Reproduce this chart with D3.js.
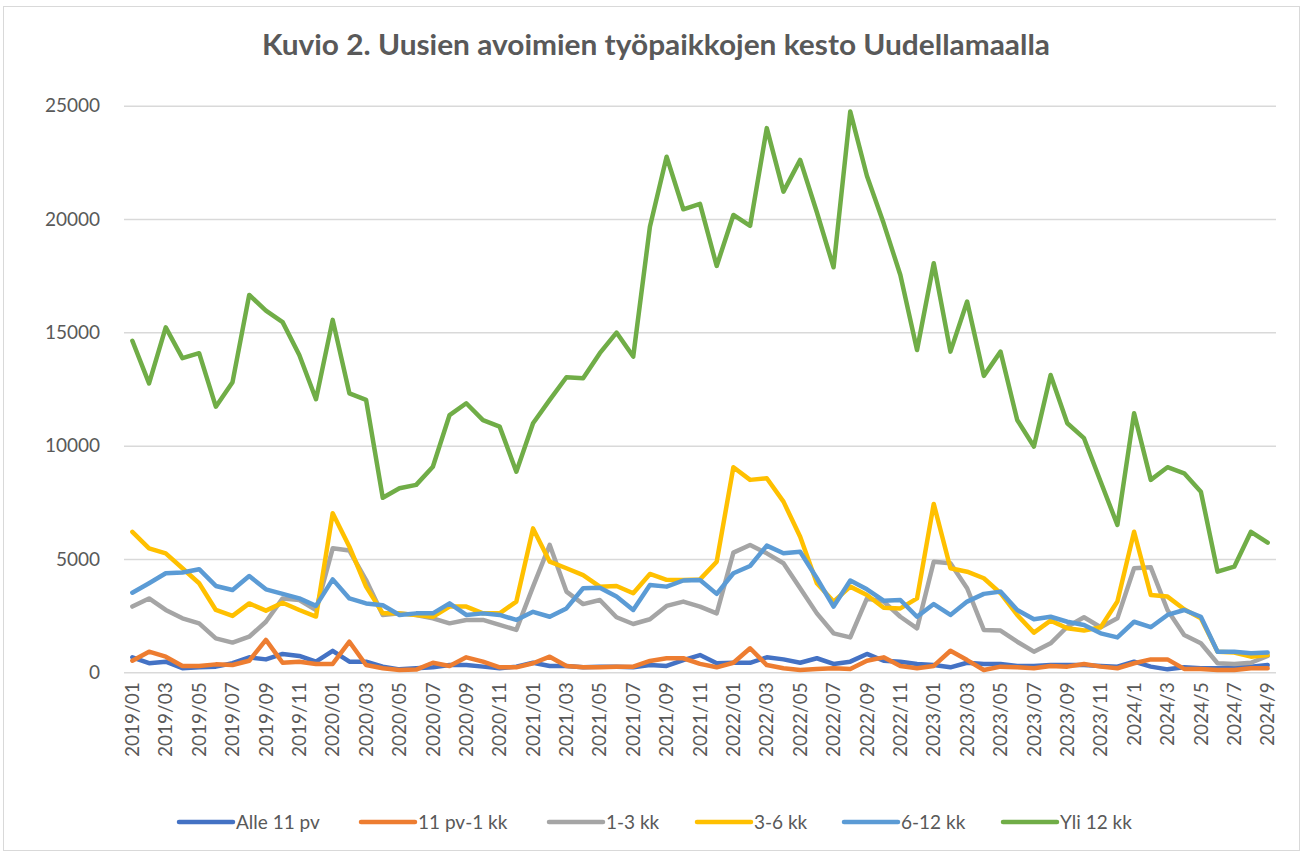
<!DOCTYPE html>
<html>
<head>
<meta charset="utf-8">
<script src="https://cdn.jsdelivr.net/npm/d3@7"></script>
<style>
  body { margin: 0; background: #fff; }
  text { font-family: Lato, "Open Sans", sans-serif; fill: #595959; }
</style>
</head>
<body>
<div id="chart"></div>
<script>
// categories (monthly)
var months = [
  "2019/01","2019/02","2019/03","2019/04","2019/05","2019/06","2019/07","2019/08","2019/09","2019/10","2019/11","2019/12",
  "2020/01","2020/02","2020/03","2020/04","2020/05","2020/06","2020/07","2020/08","2020/09","2020/10","2020/11","2020/12",
  "2021/01","2021/02","2021/03","2021/04","2021/05","2021/06","2021/07","2021/08","2021/09","2021/10","2021/11","2021/12",
  "2022/01","2022/02","2022/03","2022/04","2022/05","2022/06","2022/07","2022/08","2022/09","2022/10","2022/11","2022/12",
  "2023/01","2023/02","2023/03","2023/04","2023/05","2023/06","2023/07","2023/08","2023/09","2023/10","2023/11","2023/12",
  "2024/1","2024/2","2024/3","2024/4","2024/5","2024/6","2024/7","2024/8","2024/9"
];

var alle11pv = [660,400,470,180,220,250,400,660,570,810,720,470,950,470,470,250,130,180,220,320,320,250,180,250,
  420,280,280,220,250,250,220,320,280,540,760,400,420,420,660,570,420,620,370,470,810,510,470,370,
  320,220,420,370,370,280,280,320,320,320,280,250,470,250,130,220,180,180,220,250,320];
var pv11kk1 = [510,910,690,280,280,350,320,510,1430,420,470,370,370,1350,320,180,100,120,420,280,660,470,220,220,
  400,690,280,220,220,250,250,500,620,620,370,220,420,1060,320,180,100,150,180,150,510,660,280,180,
  280,950,540,100,250,220,180,280,250,370,250,180,400,570,570,150,150,100,100,180,180];
var kk1_3 = [2900,3260,2750,2380,2160,1500,1310,1570,2230,3260,3190,2750,5470,5370,4070,2530,2600,2530,2380,2160,2310,2310,2090,1870,
  3780,5620,3560,3010,3190,2430,2130,2340,2930,3120,2900,2600,5280,5620,5250,4810,3710,2600,1720,1540,3260,3120,2450,1940,
  4880,4810,3710,1870,1840,1350,910,1280,2010,2430,1990,2380,4590,4630,2750,1650,1280,400,370,420,720];
var kk3_6 = [6200,5470,5250,4590,3930,2750,2490,3040,2720,3070,2750,2460,7020,5540,3780,2600,2600,2530,2450,2900,2900,2600,2600,3120,
  6350,4880,4590,4290,3780,3810,3490,4340,4080,4070,4100,4880,9050,8490,8560,7530,5980,3930,3120,3780,3410,2850,2820,3260,
  7430,4590,4440,4150,3490,2530,1750,2280,1940,1840,1990,3120,6200,3410,3340,2780,2380,910,870,690,760];
var kk6_12 = [3510,3930,4370,4400,4550,3810,3630,4250,3660,3460,3260,2930,4100,3260,3040,2960,2530,2600,2600,3040,2530,2600,2530,2310,
  2670,2450,2820,3710,3730,3340,2750,3850,3780,4050,4070,3460,4370,4690,5590,5250,5320,4150,2900,4050,3660,3160,3190,2450,
  3010,2530,3120,3460,3560,2750,2340,2450,2230,2090,1720,1540,2230,1990,2530,2750,2450,910,910,840,870];
var yli12kk = [14630,12750,15220,13860,14080,11720,12800,16650,15960,15450,14000,12050,15550,12310,12020,7700,8120,8270,9070,11350,11870,11130,10840,8850,
  10990,12020,13020,12970,14080,14990,13930,19660,22750,20430,20670,17930,20180,19700,24010,21210,22610,20300,17870,24740,21900,19810,17530,14220,
  18050,14150,16360,13080,14150,11130,9960,13120,10990,10330,8410,6500,11430,8490,9050,8780,7970,4440,4660,6200,5720];

var seriesNames = ["Alle 11 pv", "11 pv-1 kk", "1-3 kk", "3-6 kk", "6-12 kk", "Yli 12 kk"];
var seriesColors = ["#4472C4", "#ED7D31", "#A5A5A5", "#FFC000", "#5B9BD5", "#70AD47"];
var seriesData = [alle11pv, pv11kk1, kk1_3, kk3_6, kk6_12, yli12kk];
var yTicks = [0, 5000, 10000, 15000, 20000, 25000];

var W = 1304, H = 855;
var plot = { left: 124, right: 1276, top: 105.7, bottom: 672.3 };

var svg = d3.select("#chart").append("svg")
  .attr("width", W)
  .attr("height", H);

// outer chart border
svg.append("rect")
  .attr("x", 3.5).attr("y", 6.5)
  .attr("width", 1296).attr("height", 844)
  .attr("fill", "none")
  .attr("stroke", "#D9D9D9")
  .attr("stroke-width", 1);

var x = d3.scaleBand()
  .domain(months)
  .range([plot.left, plot.right]);

var y = d3.scaleLinear()
  .domain([0, 25000])
  .range([plot.bottom, plot.top]);

// title
svg.append("text")
  .attr("x", 656)
  .attr("y", 55)
  .attr("text-anchor", "middle")
  .attr("font-size", "29px")
  .attr("font-weight", "bold")
  .attr("textLength", 788)
  .attr("lengthAdjust", "spacingAndGlyphs")
  .text("Kuvio 2. Uusien avoimien työpaikkojen kesto Uudellamaalla");

// gridlines + y labels
var yAxis = d3.axisLeft(y)
  .tickValues(yTicks)
  .tickSize(-(plot.right - plot.left))
  .tickPadding(24)
  .tickFormat(d3.format("d"));

var gy = svg.append("g")
  .attr("transform", "translate(" + plot.left + ",0)")
  .call(yAxis);
gy.select(".domain").remove();
gy.selectAll(".tick line").attr("stroke", "#D9D9D9").attr("stroke-width", 1.5);
gy.selectAll(".tick text")
  .attr("font-size", "19px")
  .attr("fill", "#595959")
  .style("font-family", "Lato, 'Open Sans', sans-serif");

// x axis labels (every other month)
var xAxis = d3.axisBottom(x)
  .tickValues(months.filter(function(d, i) { return i % 2 === 0; }))
  .tickSize(0)
  .tickPadding(0);

var gx = svg.append("g")
  .attr("transform", "translate(0," + plot.bottom + ")")
  .call(xAxis);
gx.select(".domain").remove();
gx.selectAll(".tick text")
  .attr("font-size", "19px")
  .attr("fill", "#595959")
  .style("font-family", "Lato, 'Open Sans', sans-serif")
  .attr("text-anchor", "end")
  .attr("transform", "translate(0,10) rotate(-90)")
  .attr("x", 0)
  .attr("y", 0)
  .attr("dy", "0.35em");

// lines
var line = d3.line()
  .x(function(d, i) { return x(months[i]) + x.bandwidth() / 2; })
  .y(function(d) { return y(d); });

svg.selectAll(".series")
  .data(seriesData)
  .enter()
  .append("path")
  .attr("class", "series")
  .attr("d", line)
  .attr("fill", "none")
  .attr("stroke", function(d, i) { return seriesColors[i]; })
  .attr("stroke-width", 4.5)
  .attr("stroke-linejoin", "round")
  .attr("stroke-linecap", "round");

// legend
var legendX = [179, 361, 549, 697, 844, 1003];
var legend = svg.selectAll(".legend")
  .data(seriesNames)
  .enter()
  .append("g")
  .attr("class", "legend")
  .attr("transform", function(d, i) { return "translate(" + legendX[i] + ",822)"; });

legend.append("line")
  .attr("x1", 0).attr("x2", 54)
  .attr("y1", 0).attr("y2", 0)
  .attr("stroke", function(d, i) { return seriesColors[i]; })
  .attr("stroke-width", 4.5)
  .attr("stroke-linecap", "round");

legend.append("text")
  .attr("x", 57)
  .attr("y", 0)
  .attr("dy", "0.35em")
  .attr("font-size", "19px")
  .text(function(d) { return d; });
</script>
</body>
</html>
